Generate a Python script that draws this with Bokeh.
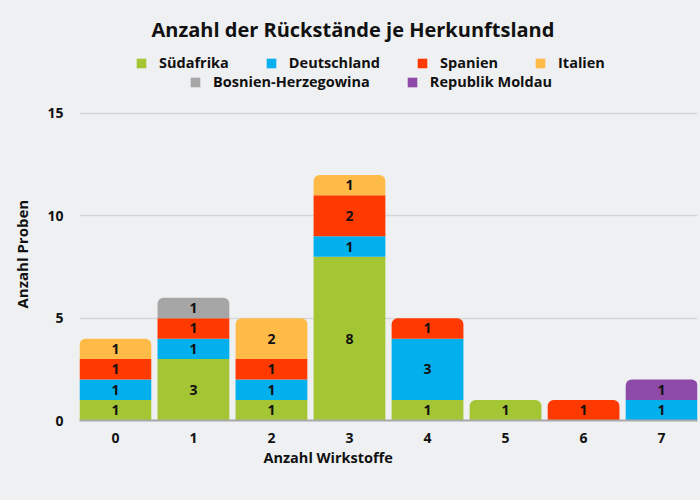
from bokeh.plotting import figure
from bokeh.models import (ColumnDataSource, Range1d, FixedTicker, Legend, LegendItem, Title, Label)
from bokeh.core.properties import value
from bokeh.embed import file_html
from bokeh.resources import INLINE

categories = [0, 1, 2, 3, 4, 5, 6, 7]
series_names = ["Südafrika", "Deutschland", "Spanien", "Italien", "Bosnien-Herzegowina", "Republik Moldau"]
suedafrika = [1, 3, 1, 8, 1, 1, 0, 0]
deutschland = [1, 1, 1, 1, 3, 0, 0, 1]
spanien = [1, 1, 1, 2, 1, 0, 1, 0]
italien = [1, 0, 2, 1, 0, 0, 0, 0]
bosnien = [0, 1, 0, 0, 0, 0, 0, 0]
moldau = [0, 0, 0, 0, 0, 0, 0, 1]
colors = ["#a4c634", "#03b0ee", "#ff3a00", "#ffbb48", "#a6a6a6", "#8e4aa8"]
y_ticks = [0, 5, 10, 15]

series_values = [suedafrika, deutschland, spanien, italien, bosnien, moldau]

BG = "#eff0f2"
FONT = "Open Sans"
TXT = "#111111"

# frame extends to the top of the canvas so that the title and legend rows
# (placed in screen units) are not clipped; y-range continues above 15 accordingly
p = figure(width=700, height=500, output_backend="svg", toolbar_location=None,
           x_range=Range1d(-0.46, 7.46), y_range=Range1d(0, 20.52),
           min_border_left=78, min_border_right=3, min_border_bottom=80, min_border_top=0,
           background_fill_color=BG, border_fill_color=BG, outline_line_color=None)

# topmost series index per category
top_idx = []
for i in range(len(categories)):
    t = -1
    for s, vals in enumerate(series_values):
        if vals[i] > 0:
            t = s
    top_idx.append(t)

bottoms = [0] * len(categories)
legend_items = []
lx, ly, lt = [], [], []
for s, (name, vals, col) in enumerate(zip(series_names, series_values, colors)):
    flat = dict(x=[], bottom=[], top=[])
    rnd = dict(x=[], bottom=[], top=[])
    for i, c in enumerate(categories):
        v = vals[i]
        if v > 0:
            d = rnd if top_idx[i] == s else flat
            d["x"].append(c)
            d["bottom"].append(bottoms[i])
            d["top"].append(bottoms[i] + v)
            lx.append(c)
            ly.append(bottoms[i] + v / 2)
            lt.append(str(v))
            bottoms[i] += v
    p.vbar(x="x", bottom="bottom", top="top", width=0.92, source=ColumnDataSource(flat),
           fill_color=col, line_color=None)
    p.vbar(x="x", bottom="bottom", top="top", width=0.92, source=ColumnDataSource(rnd),
           fill_color=col, line_color=None, border_radius=(6, 6, 0, 0))
    # zero-height proxy bars, only used for the legend swatch
    rl = p.vbar(x=categories, bottom=0, top=0, width=0.92, fill_color=col, line_color=None)
    legend_items.append(LegendItem(label=name, renderers=[rl]))

p.text(x=lx, y=ly, text=lt, text_font=value(FONT), text_font_style="bold",
       text_font_size="14px", text_color=TXT, text_align="center", text_baseline="middle")

# axes
p.xaxis.ticker = FixedTicker(ticks=categories)
p.yaxis.ticker = FixedTicker(ticks=y_ticks)
for ax in (p.xaxis[0], p.yaxis[0]):
    ax.major_tick_line_color = None
    ax.minor_tick_line_color = None
    ax.major_label_text_font = FONT
    ax.major_label_text_font_style = "bold"
    ax.major_label_text_font_size = "14px"
    ax.major_label_text_color = TXT
p.xaxis.major_label_standoff = 6
p.yaxis.major_label_standoff = 10
p.yaxis.axis_line_color = None
p.xaxis.axis_line_color = "#a8a8a8"
p.xaxis.axis_line_width = 2
p.xgrid.grid_line_color = None
p.ygrid.grid_line_color = "#d5d6d8"
p.ygrid.grid_line_width = 1.5

xlabel = Title(text="Anzahl Wirkstoffe", align="left", offset=184, text_font=FONT,
               text_font_style="bold", text_font_size="14.5px", text_color=TXT, standoff=0)
p.add_layout(xlabel, "below")

ylabel = Title(text="Anzahl Proben", align="left", offset=112, text_font=FONT,
               text_font_style="bold", text_font_size="15px", text_color=TXT,
               standoff=22, vertical_align="top")
p.add_layout(ylabel, "left")

def mk_legend(items, loc):
    return Legend(items=items, orientation="horizontal", location=loc,
                  label_text_font=FONT, label_text_font_style="bold", label_text_font_size="14.5px",
                  label_text_color=TXT, glyph_width=12, glyph_height=12,
                  label_standoff=12, spacing=36, padding=0, margin=0,
                  background_fill_alpha=0, border_line_color=None, label_height=14)

p.add_layout(mk_legend(legend_items[:4], (56, 348)))
p.add_layout(mk_legend(legend_items[4:], (110, 329)))

ttl = Label(x=72, y=391, x_units="screen", y_units="screen",
            text="Anzahl der Rückstände je Herkunftsland", text_font=FONT,
            text_font_style="bold", text_font_size="20px", text_color=TXT,
            text_baseline="middle", text_align="left")
p.add_layout(ttl)

html = file_html(p, INLINE)
html = html.replace("<body>", '<body style="background:%s">' % BG)
open("out.html", "w").write(html)
